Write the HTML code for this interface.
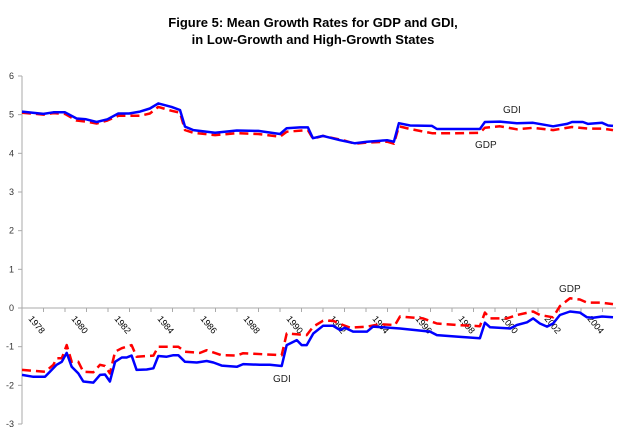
<!DOCTYPE html>
<html><head><meta charset="utf-8"><style>
html,body{margin:0;padding:0;background:#fff;}
svg{display:block;font-family:"Liberation Sans",Arial,sans-serif;}
</style></head><body>
<svg id="chart" width="627" height="444" viewBox="0 0 627 444">
<text x="313" y="27" text-anchor="middle" font-size="13" font-weight="bold">Figure 5: Mean Growth Rates for GDP and GDI,</text>
<text x="313" y="44" text-anchor="middle" font-size="13" font-weight="bold">in Low-Growth and High-Growth States</text>
<g id="axes"></g>
<g id="series"></g>
<text x="503" y="113" font-size="10" fill="#222">GDI</text>
<text x="475" y="148" font-size="10" fill="#222">GDP</text>
<text x="559" y="292" font-size="10" fill="#222">GDP</text>
<text x="273" y="382" font-size="10" fill="#222">GDI</text>
</svg>
<script>
const yTicks = [-3,-2,-1,0,1,2,3,4,5,6];
const yearLabels = [1978,1980,1982,1984,1986,1988,1990,1992,1994,1996,1998,2000,2002,2004];
const hiGdiT = [1978,1979,1979.46,1980,1980.54,1980.98,1981.47,1981.97,1982.48,1982.98,1983.49,1983.95,1984.34,1984.96,1985.35,1985.58,1985.97,1986.98,1987.99,1988.99,1990,1990.31,1990.93,1991.3,1991.53,1992,1992.79,1993.49,1994.05,1994.98,1995.3,1995.53,1996.05,1997.07,1997.3,1999.3,1999.53,2000.23,2001.02,2001.77,2002.7,2003.35,2003.58,2004.09,2004.33,2004.98,2005.26,2005.49];
const hiGdiV = [5.08,5.02,5.06,5.06,4.9,4.88,4.81,4.88,5.03,5.03,5.08,5.16,5.29,5.2,5.12,4.69,4.6,4.53,4.59,4.58,4.5,4.65,4.67,4.67,4.39,4.45,4.34,4.26,4.3,4.34,4.3,4.78,4.72,4.71,4.63,4.63,4.81,4.82,4.78,4.79,4.7,4.76,4.81,4.81,4.76,4.79,4.72,4.71];
const hiGdpT = [1978,1979,1979.46,1980,1980.54,1980.98,1981.47,1981.97,1982.48,1982.98,1983.49,1983.95,1984.34,1984.96,1985.35,1985.58,1985.97,1986.98,1987.99,1988.99,1990,1990.31,1991.3,1991.53,1992,1993,1993.49,1994.05,1994.98,1995.3,1995.53,1996.05,1997.07,1998.2,1999.3,1999.53,2000.23,2001.02,2001.77,2002.7,2003.58,2004.33,2004.98,2005.49];
const hiGdpV = [5.05,5.0,5.04,5.02,4.85,4.82,4.77,4.85,4.97,4.97,4.97,5.03,5.2,5.1,5.05,4.6,4.53,4.47,4.52,4.5,4.43,4.56,4.6,4.38,4.45,4.33,4.25,4.28,4.3,4.25,4.7,4.63,4.52,4.52,4.53,4.66,4.7,4.62,4.66,4.6,4.68,4.64,4.64,4.6];
const loGdiT = [1978,1978.53,1979.07,1979.3,1979.61,1979.85,1980.08,1980.31,1980.62,1980.85,1981.32,1981.63,1981.86,1982.09,1982.33,1982.64,1982.87,1983.1,1983.33,1983.8,1984.11,1984.34,1984.73,1985.04,1985.27,1985.58,1986.13,1986.59,1986.9,1987.29,1987.99,1988.29,1989.07,1989.53,1990.08,1990.31,1990.78,1991.01,1991.24,1991.55,1992,1992.47,1992.79,1993.02,1993.4,1994.05,1994.33,1995.58,1996.98,1997.3,1998.23,1999.3,1999.53,1999.77,2000.7,2001.02,2001.49,2001.77,2002.09,2002.42,2002.7,2003.02,2003.49,2003.95,2004.28,2004.56,2004.98,2005.49];
const loGdiV = [-1.73,-1.78,-1.78,-1.65,-1.47,-1.39,-1.16,-1.52,-1.69,-1.9,-1.93,-1.73,-1.72,-1.9,-1.39,-1.28,-1.28,-1.23,-1.6,-1.59,-1.56,-1.24,-1.26,-1.22,-1.22,-1.39,-1.41,-1.37,-1.41,-1.49,-1.52,-1.45,-1.47,-1.47,-1.5,-0.96,-0.83,-0.96,-0.96,-0.66,-0.46,-0.46,-0.57,-0.51,-0.61,-0.61,-0.48,-0.53,-0.61,-0.7,-0.74,-0.78,-0.38,-0.5,-0.53,-0.44,-0.37,-0.27,-0.4,-0.48,-0.4,-0.18,-0.09,-0.12,-0.24,-0.25,-0.22,-0.24];
const loGdpT = [1978,1979.07,1979.46,1979.61,1979.85,1980.08,1980.31,1980.62,1980.85,1981.32,1981.63,1981.86,1982.09,1982.33,1982.64,1983.1,1983.33,1984.11,1984.34,1985.27,1985.58,1986.28,1986.59,1987.29,1987.99,1988.29,1990.08,1990.31,1990.78,1991.24,1991.55,1992,1992.47,1992.93,1993.26,1994.05,1994.65,1995.35,1995.58,1996.65,1997.3,1998.23,1999.3,1999.53,1999.77,2000.56,2001.02,2001.77,2002.09,2002.7,2003.02,2003.49,2003.95,2004.28,2004.88,2005.49];
const loGdpV = [-1.6,-1.65,-1.47,-1.3,-1.3,-0.96,-1.39,-1.39,-1.65,-1.66,-1.47,-1.5,-1.69,-1.13,-1.04,-0.96,-1.26,-1.23,-1.0,-1.0,-1.13,-1.16,-1.09,-1.22,-1.23,-1.17,-1.22,-0.66,-0.68,-0.7,-0.48,-0.33,-0.33,-0.44,-0.51,-0.48,-0.42,-0.44,-0.22,-0.27,-0.4,-0.44,-0.47,-0.12,-0.27,-0.27,-0.18,-0.09,-0.18,-0.24,0.05,0.25,0.22,0.14,0.14,0.1];

const NS='http://www.w3.org/2000/svg';
const X0=22, PXY=21.5, Y0=308, PXV=38.67;
function xs(t){return X0+(t-1978)*PXY;}
function ys(v){return Y0-v*PXV;}
function mk(tag,attrs,parent){const e=document.createElementNS(NS,tag);for(const k in attrs)e.setAttribute(k,attrs[k]);parent.appendChild(e);return e;}
const axes=document.getElementById('axes');
const yAxis=mk('line',{x1:X0,y1:ys(6),x2:X0,y2:ys(-3),stroke:'#aaa','stroke-width':1},axes);


yTicks.forEach(v=>{
  const tk=mk('line',{x1:X0-4,y1:ys(v),x2:X0,y2:ys(v),stroke:'#aaa'},axes);
  
  
  const tx=mk('text',{x:X0-8,y:ys(v)+3,'text-anchor':'end','font-size':9,fill:'#333'},axes);
  tx.textContent=v;
  
  
});
const xAxis=mk('line',{x1:X0,y1:Y0,x2:616,y2:Y0,stroke:'#aaa'},axes);


for(let y=1979;y<=2005;y++){
  const tk=mk('line',{x1:xs(y),y1:Y0,x2:xs(y),y2:Y0+4,stroke:'#aaa'},axes);
  
  
}
yearLabels.forEach(y=>{
  const px=xs(y)+6, py=Y0+11;
  const tx=mk('text',{x:px,y:py,'font-size':9,fill:'#000',transform:`rotate(50 ${px} ${py})`},axes);
  tx.textContent=y;
  
  
});
const ser=document.getElementById('series');
function line(T,V,color,dash,name){
  const d=T.map((t,i)=>(i?'L':'M')+xs(t).toFixed(1)+','+ys(V[i]).toFixed(1)).join(' ');
  const p=mk('path',{d:d,fill:'none',stroke:color,'stroke-width':2.5,'stroke-linejoin':'round'},ser);
  if(dash)p.setAttribute('stroke-dasharray',dash);
  
  
}
line(hiGdpT,hiGdpV,'#ff0000','9,5','gdp-high-growth-line');
line(loGdpT,loGdpV,'#ff0000','9,5','gdp-low-growth-line');
line(hiGdiT,hiGdiV,'#0000ff',null,'gdi-high-growth-line');
line(loGdiT,loGdiV,'#0000ff',null,'gdi-low-growth-line');
</script>
</body></html>
